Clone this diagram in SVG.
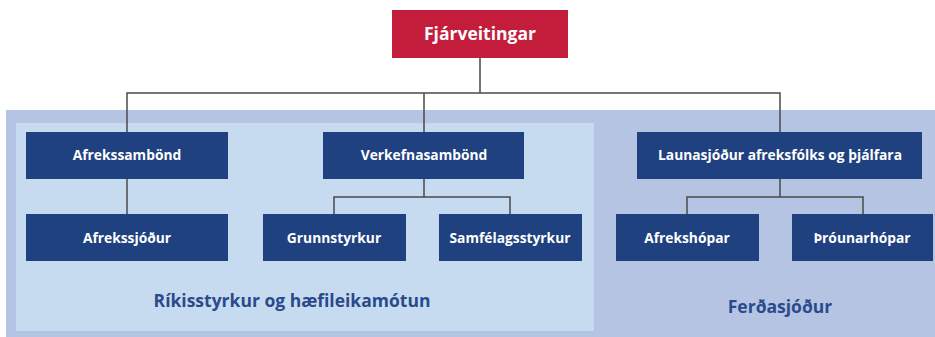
<svg xmlns="http://www.w3.org/2000/svg" width="935" height="337" viewBox="0 0 935 337">
<style>
.box{fill:#1f417f}
.bt{fill:#ffffff;font-family:"Open Sans","Noto Sans",sans-serif;font-weight:700;font-size:13.8px;text-anchor:middle}
.ln{fill:none;stroke:#4a4a4a;stroke-width:1.5}
.lbl{fill:#2a4a8c;font-family:"Open Sans","Noto Sans",sans-serif;font-weight:700;font-size:17.5px;text-anchor:middle}
</style>
<rect width="935" height="337" fill="#ffffff"/>
<g id="bg">
<rect x="6" y="110" width="929" height="227" fill="#b5c4e3"/>
<rect x="16" y="123" width="578" height="208" fill="#c7dbf0"/>
<text class="lbl" x="292" y="307">Ríkisstyrkur og hæfileikamótun</text>
<text class="lbl" x="780" y="313">Ferðasjóður</text>
</g>
<g id="connectors">
<path class="ln" d="M480 58V93M127 132V93H780V132M424 93V132"/>
<path class="ln" d="M127 179V214"/>
<path class="ln" d="M424 179V197M334 214V197H510V214"/>
<path class="ln" d="M780 179V197M687 214V197H863V214"/>
</g>
<g id="fjarveitingar">
<rect x="392" y="10" width="176" height="48" fill="#c41d3c"/>
<text class="bt" x="480" y="40" style="font-size:17.5px">Fjárveitingar</text>
</g>
<g id="afrekssambond">
<rect class="box" x="26" y="132" width="202" height="47"/>
<text class="bt" x="127" y="160">Afrekssambönd</text>
</g>
<g id="verkefnasambond">
<rect class="box" x="323" y="132" width="201" height="47"/>
<text class="bt" x="424" y="160">Verkefnasambönd</text>
</g>
<g id="launasjodur">
<rect class="box" x="637" y="132" width="285" height="47"/>
<text class="bt" x="780" y="160">Launasjóður afreksfólks og þjálfara</text>
</g>
<g id="afrekssjodur">
<rect class="box" x="26" y="214" width="202" height="47"/>
<text class="bt" x="127" y="243">Afrekssjóður</text>
</g>
<g id="grunnstyrkur">
<rect class="box" x="263" y="214" width="143" height="47"/>
<text class="bt" x="334" y="243">Grunnstyrkur</text>
</g>
<g id="samfelagsstyrkur">
<rect class="box" x="439" y="214" width="143" height="47"/>
<text class="bt" x="510" y="243">Samfélagsstyrkur</text>
</g>
<g id="afrekshopar">
<rect class="box" x="616" y="214" width="143" height="47"/>
<text class="bt" x="687" y="243">Afrekshópar</text>
</g>
<g id="throunarhopar">
<rect class="box" x="792" y="214" width="141" height="47"/>
<text class="bt" x="862" y="243">Þróunarhópar</text>
</g>
</svg>
